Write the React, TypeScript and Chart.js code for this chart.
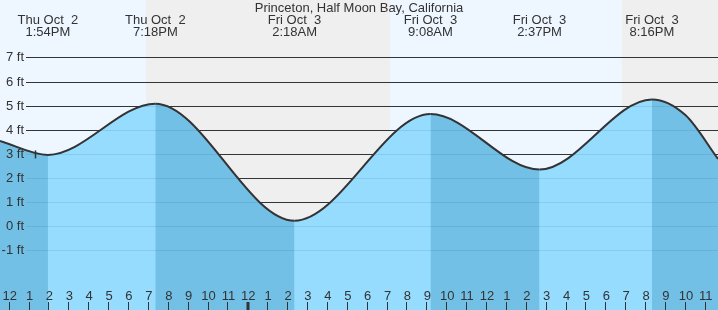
import React, { useEffect, useRef } from "react";
import { Chart, registerables } from "chart.js";

Chart.register(...registerables);

const TITLE = "Princeton, Half Moon Bay, California";

// Hours after noon, Thu Oct 2
const tideHours = [-0.51, 1.9, 7.3, 14.3, 21.133, 26.617, 32.267, 33.95, 35.59];
const tideFeet = [3.54, 2.96, 5.08, 0.23, 4.65, 2.35, 5.26, 4.61, 2.79];

const eventHours = [1.9, 7.3, 14.3, 21.133, 26.617, 32.267];
const eventDays = ["Thu Oct  2", "Thu Oct  2", "Fri Oct  3", "Fri Oct  3", "Fri Oct  3", "Fri Oct  3"];
const eventTimes = ["1:54PM", "7:18PM", "2:18AM", "9:08AM", "2:37PM", "8:16PM"];

const hourLabels = [
  "12", "1", "2", "3", "4", "5", "6", "7", "8", "9", "10", "11",
  "12", "1", "2", "3", "4", "5", "6", "7", "8", "9", "10", "11",
  "12", "1", "2", "3", "4", "5", "6", "7", "8", "9", "10", "11",
];
const midnightHour = 12;

const feetTicks = [7, 6, 5, 4, 3, 2, 1, 0, -1];

// night intervals (sunset -> sunrise), hours after noon Thu
const nightStarts = [6.817, 30.783];
const nightEnds = [19.083, 36];

const nowHour = 1.25;
const nowFeet = 2.98;

const X_MIN = -0.51;
const X_MAX = 35.59;
const Y_MIN = -3.47;
const Y_MAX = 9.38;

const DAY_BG = "#eef7ff";
const NIGHT_BG = "#efefef";
const RISE_FILL = "rgb(150,220,254)";
const FALL_FILL = "rgb(114,192,230)";
const UNDER_GRID = "rgba(40,70,100,0.12)";
const INK = "#333333";
const FONT = "13px 'Liberation Sans', Arial, sans-serif";

function drawGrid(chart: any, color: string) {
  const { ctx, chartArea, scales } = chart;
  const ys = scales.y;
  ctx.save();
  ctx.strokeStyle = color;
  ctx.lineWidth = 1;
  for (const f of feetTicks) {
    const y = Math.round(ys.getPixelForValue(f)) + 0.5;
    ctx.beginPath();
    ctx.moveTo(26, y);
    ctx.lineTo(chartArea.right, y);
    ctx.stroke();
  }
  ctx.restore();
}

const decorPlugin = {
  id: "tideDecor",
  beforeDatasetsDraw(chart: any) {
    const { ctx, scales } = chart;
    const xs = scales.x;
    const W = chart.width;
    const H = chart.height;
    ctx.save();
    ctx.fillStyle = DAY_BG;
    ctx.fillRect(0, 0, W, H);
    ctx.fillStyle = NIGHT_BG;
    for (let i = 0; i < nightStarts.length; i++) {
      const a = xs.getPixelForValue(nightStarts[i]);
      const b = Math.min(xs.getPixelForValue(nightEnds[i]), W);
      ctx.fillRect(Math.round(a), 0, Math.round(b) - Math.round(a), H);
    }
    ctx.restore();
    drawGrid(chart, INK);
  },
  afterDatasetsDraw(chart: any) {
    const { ctx, scales } = chart;
    const xs = scales.x;
    const ys = scales.y;
    const H = chart.height;
    drawGrid(chart, UNDER_GRID);
    ctx.save();
    ctx.fillStyle = INK;
    ctx.font = FONT;
    // y labels
    ctx.textAlign = "right";
    ctx.textBaseline = "middle";
    for (const f of feetTicks) {
      const y = ys.getPixelForValue(f);
      ctx.fillText(`${f} ft`, 24, y + 0.5);
    }
    // hour labels and ticks
    ctx.textAlign = "center";
    ctx.strokeStyle = INK;
    for (let i = 0; i < hourLabels.length; i++) {
      const x = xs.getPixelForValue(i) - 0.5;
      ctx.fillText(hourLabels[i], x, 296);
      if (i === midnightHour) {
        ctx.fillRect(Math.round(x) - 1.5, 302, 3, H - 302);
      } else {
        ctx.lineWidth = 1;
        ctx.beginPath();
        ctx.moveTo(Math.round(x) - 0.5, 302);
        ctx.lineTo(Math.round(x) - 0.5, H);
        ctx.stroke();
      }
    }
    // header
    ctx.fillText(TITLE, chart.width / 2, 8);
    for (let i = 0; i < eventHours.length; i++) {
      const x = xs.getPixelForValue(eventHours[i]);
      ctx.fillText(eventDays[i], x, 20);
      ctx.fillText(eventTimes[i], x, 32);
    }
    // now marker
    const nx = Math.round(xs.getPixelForValue(nowHour)) + 0.5;
    const ny = ys.getPixelForValue(nowFeet);
    ctx.lineWidth = 1.5;
    ctx.beginPath();
    ctx.moveTo(nx, ny - 4);
    ctx.lineTo(nx, ny + 4);
    ctx.stroke();
    ctx.restore();
  },
};

export default function App() {
  const ref = useRef<HTMLCanvasElement>(null);
  useEffect(() => {
    if (!ref.current) return;
    const data = tideHours.map((h, i) => ({ x: h, y: tideFeet[i] }));
    const chart = new Chart(ref.current, {
      type: "line",
      data: {
        datasets: [
          {
            data,
            order: 1,
            borderColor: INK,
            borderWidth: 2,
            pointRadius: 0,
            cubicInterpolationMode: "monotone",
            fill: "start",
            backgroundColor: RISE_FILL,
            segment: {
              backgroundColor: (c: any) => (c.p0.parsed.y > c.p1.parsed.y ? FALL_FILL : RISE_FILL),
            },
          },
          {
            data,
            order: 2,
            borderWidth: 0,
            borderColor: "rgba(0,0,0,0)",
            pointRadius: 0,
            cubicInterpolationMode: "monotone",
            fill: "start",
            backgroundColor: RISE_FILL,
          },
        ],
      },
      options: {
        animation: false,
        responsive: false,
        devicePixelRatio: 1,
        layout: { padding: 0 },
        plugins: { legend: { display: false }, tooltip: { enabled: false }, title: { display: false } },
        scales: {
          x: { type: "linear", min: X_MIN, max: X_MAX, display: false },
          y: { type: "linear", min: Y_MIN, max: Y_MAX, display: false },
        },
      },
      plugins: [decorPlugin],
    } as any);
    return () => chart.destroy();
  }, []);
  return (
    <div style={{ position: "fixed", left: 0, top: 0, width: 718, height: 310 }}>
      <canvas ref={ref} width={718} height={310} style={{ display: "block", width: 718, height: 310 }} />
    </div>
  );
}
